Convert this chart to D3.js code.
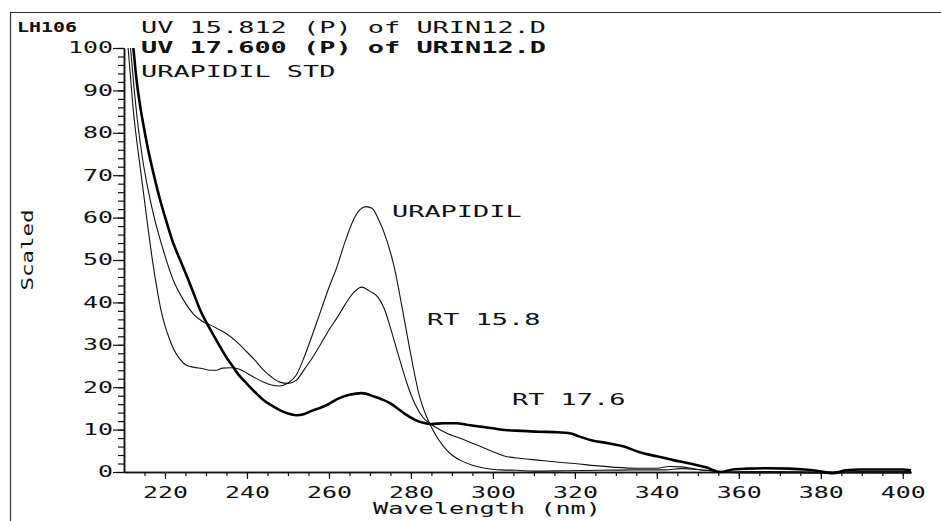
<!DOCTYPE html>
<html>
<head>
<meta charset="utf-8">
<script src="https://cdn.jsdelivr.net/npm/d3@7"></script>
<style>
body { margin: 0; background: #fff; }
svg text { font-family: 'DejaVu Sans Mono', monospace; fill: #111; }
</style>
</head>
<body>
<div id="chart"></div>
<script>
// Spectra: [wavelength (nm), scaled value]
var urapidil_std = [
	[211.0,100],[211.6,93],[212.2,86],[213,79],[214,71.5],[215,64],[216,56.5],[217,49.5],[218,43.5],
	[219,38.3],[220,34.5],[221,31.6],[222,29.2],[223.5,26.8],[225,25.3],[227,24.7],[229,24.4],[231,24.0],
	[232.5,24.0],[234,24.5],[236,24.6],[238,24.3],[240,23.3],[242,22.2],[244,21.2],[246,20.5],[248,20.3],
	[250,21.0],[252,22.8],[254,27.2],[256,32.5],[258,38.0],[260,43.5],[262,48.5],[264,54.5],[266,59.5],
	[267.5,61.8],[269,62.6],[270.5,62.2],[272,59.8],[274,55.0],[276,48.0],[278,38.0],[280,27.5],[282,18.2],
	[284,12.6],[286,8.8],[288,6.0],[290,4.0],[292,2.8],[295,1.6],[298,0.9],[302,0.5],[306,0.4],[310,0.2],
	[318,0.3],[326,0.4],[334,0.5],[342,0.5],[346,0.8],[350,0.6],[354,0.2],[356,0],[362,-0.2],[370,-0.2],
	[380,-0.3],[390,-0.2],[402,-0.3]
];
var rt_15_8 = [
	[211.6,100],[212.5,90],[213.2,83.5],[214.5,74],[216,66],[217.5,59.5],[219.5,52.6],[222,45.3],[224.5,40.6],
	[227,37.2],[229,35.6],[231,34.7],[233,33.7],[235,32.6],[237.5,30.7],[240,28.3],[242,26.3],[244,24.1],
	[246,22.4],[248,21.2],[250,20.9],[252,21.6],[254,24.2],[256,27.0],[258,30.2],[260,33.5],[262,36.4],
	[264,39.6],[266,42.3],[268,43.6],[270,42.6],[272,41.2],[273.5,38.5],[275,34.0],[277,27.4],[279,21.0],
	[281,16.0],[283,12.8],[285,11.2],[287,10.0],[289,9.0],[291,8.3],[294,7.2],[297,6.0],[300,4.8],[303,3.7],
	[307,3.2],[311,2.8],[315,2.4],[320,2.0],[325,1.5],[330,1.1],[335,0.9],[340,0.9],[343,1.3],[346,1.2],
	[350,0.6],[353,0.3],[356,0],[362,0.1],[370,0.1],[380,0],[390,0.1],[402,0.1]
];
var rt_17_6 = [
	[212.3,100],[213,93],[214,86],[215,80.5],[216,75.5],[217,71.2],[218,67.2],[219,63.5],[220,60.2],
	[221,57.0],[222,54.0],[223.7,50],[225.5,45.8],[227,42.1],[228.5,38.4],[230.2,35.1],[232,32],[233.4,29.6],
	[235,27],[236.6,24.8],[238,22.9],[240,20.8],[242,18.8],[244,17.0],[246,15.7],[248,14.6],[250,13.8],
	[252,13.4],[254,13.7],[255.5,14.3],[257.5,15],[259.5,15.8],[262,17.2],[265,18.2],[268,18.6],[271,17.8],
	[273,17.1],[275,16.2],[277,14.8],[279,13.4],[281,12.3],[283,11.6],[285,11.3],[288,11.5],[291,11.5],
	[294,11.1],[297,10.7],[300,10.3],[303,9.9],[307,9.7],[311,9.5],[315,9.4],[319,9.1],[321,8.4],[324,7.5],
	[328,6.8],[332,6.0],[336,4.6],[340,3.7],[344,2.8],[348,2.0],[352,1.1],[355.5,0],[358.5,0.6],[362,0.8],
	[367,0.9],[372,0.8],[376,0.6],[379,0.3],[383,-0.3],[386,0.4],[390,0.6],[395,0.6],[400,0.6],[402,0.4]
];

var x_ticks = [220, 240, 260, 280, 300, 320, 340, 360, 380, 400];
var y_ticks = [0, 10, 20, 30, 40, 50, 60, 70, 80, 90, 100];
var file_id = 'LH106';
var title_lines = ['UV 15.812 (P) of URIN12.D', 'UV 17.600 (P) of URIN12.D', 'URAPIDIL STD'];
var curve_labels = ['URAPIDIL', 'RT 15.8', 'RT 17.6'];

var width = 941, height = 521;
var pitch = 16.2;   // character pitch of the plotter lettering

var svg = d3.select('#chart')
	.append('svg')
	.attr('width', width)
	.attr('height', height);

var x = d3.scaleLinear().domain([210, 402]).range([124, 911]);
var y = d3.scaleLinear().domain([0, 100]).range([472, 48]);

// page frame (left and top edge only)
svg.append('path')
	.attr('d', 'M10.5,521V12.5H941')
	.attr('fill', 'none')
	.attr('stroke', '#333')
	.attr('stroke-width', 1.2);

// plotter style text: stretched glyphs on a fixed pitch
function put(str, px, py, opt) {
	opt = opt || {};
	var p = opt.pitch || pitch;
	return svg.append('text')
		.attr('x', px)
		.attr('y', py)
		.attr('font-size', opt.size || 15)
		.attr('font-weight', opt.bold ? 'bold' : 'normal')
		.attr('text-anchor', opt.anchor || 'start')
		.attr('textLength', str.length * p)
		.attr('lengthAdjust', 'spacingAndGlyphs')
		.text(str);
}

// axes
var y_minor = d3.axisLeft(y).tickValues(d3.range(0, 101, 2)).tickSize(6).tickSizeOuter(0).tickFormat('');
var y_major = d3.axisLeft(y).tickValues(y_ticks).tickSize(11).tickSizeOuter(0).tickPadding(0);
var x_minor = d3.axisBottom(x).tickValues(d3.range(215, 401, 5)).tickSize(4).tickSizeOuter(0).tickFormat('');
var x_major = d3.axisBottom(x).tickValues(x_ticks).tickSize(7).tickSizeOuter(0).tickPadding(8);

svg.append('g').attr('transform', 'translate(124,0)').call(y_minor);
svg.append('g').attr('transform', 'translate(124,0)').call(y_major);
svg.append('g').attr('transform', 'translate(0,472)').call(x_minor);
svg.append('g').attr('transform', 'translate(0,472)').call(x_major);

svg.selectAll('.domain').attr('stroke', '#111').attr('stroke-width', 1.5);
svg.selectAll('.tick line').attr('stroke', '#111').attr('stroke-width', 1.2);
svg.selectAll('.tick text')
	.attr('font-size', 15)
	.attr('fill', '#111')
	.attr('textLength', function(d) { return String(d).length * 15; })
	.attr('lengthAdjust', 'spacingAndGlyphs');

// spectra
var line = d3.line()
	.x(function(d) { return x(d[0]); })
	.y(function(d) { return y(d[1]); })
	.curve(d3.curveMonotoneX);

svg.append('path').datum(urapidil_std)
	.attr('d', line).attr('fill', 'none').attr('stroke', '#111').attr('stroke-width', 1.1);
svg.append('path').datum(rt_15_8)
	.attr('d', line).attr('fill', 'none').attr('stroke', '#111').attr('stroke-width', 1.1);
svg.append('path').datum(rt_17_6)
	.attr('d', line).attr('fill', 'none').attr('stroke', '#000').attr('stroke-width', 2.6)
	.attr('stroke-linejoin', 'round');

// header
put(file_id, 17, 32, { bold: true, pitch: 12, size: 14 });
put(title_lines[0], 141, 33);
put(title_lines[1], 141, 53, { bold: true });
put(title_lines[2], 141, 77);

// curve annotations
put(curve_labels[0], 392, 217);
put(curve_labels[1], 427, 325);
put(curve_labels[2], 512, 405);

// axis titles
put('Wavelength (nm)', 373, 514, { pitch: 15.2 });
put('Scaled', 0, 0, { pitch: 13.5, size: 16 })
	.attr('text-anchor', 'middle')
	.attr('transform', 'translate(33,250) rotate(-90)');
</script>
</body>
</html>
